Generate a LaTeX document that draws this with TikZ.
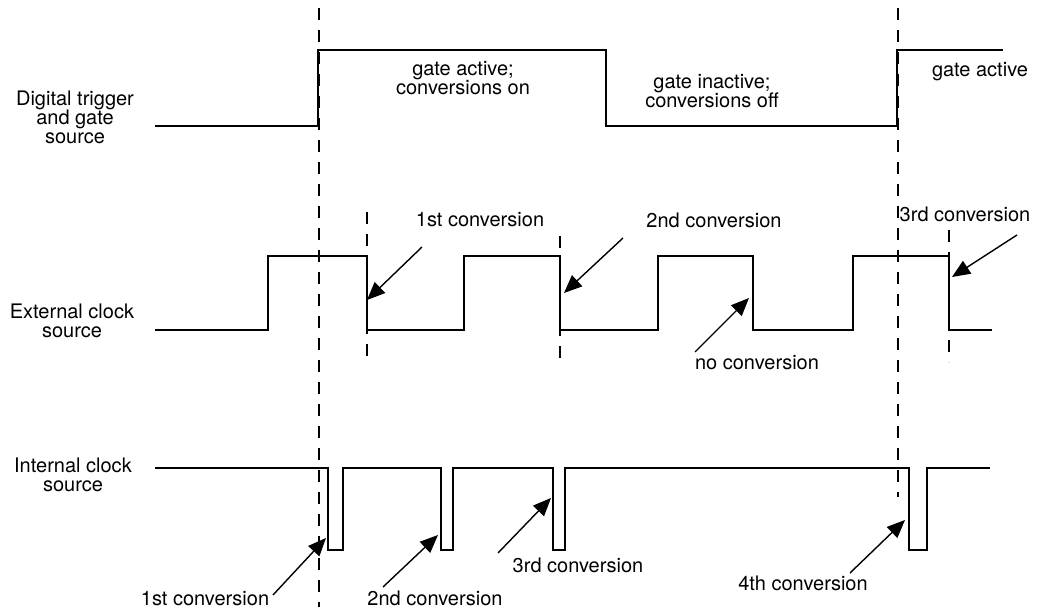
\documentclass[tikz,border=0pt]{standalone}
\usepackage{fontspec}
\setmainfont{TeX Gyre Heros}
\usepackage{tikz}
\usetikzlibrary{arrows.meta}
\tikzset{lb/.append style={font=\fontsize{20}{19}\selectfont, align=center, inner sep=0pt}}
\tikzset{sg/.append style={line width=1.6pt}}
\tikzset{gd/.append style={line width=1.3pt, dash pattern=on 12pt off 10pt}}
\tikzset{ar/.append style={line width=1.4pt, -{Triangle[length=18pt,width=15pt]}}}

\begin{document}
\begin{tikzpicture}[x=1pt,y=-1pt]
                \useasboundingbox (0,0) rectangle (1039,612);
                % signal names
                \node[lb] (dig) at (75,117) {Digital trigger\\and gate\\source};
                \node[lb] (ext) at (72,321) {External clock\\source};
                \node[lb] (int) at (73,475) {Internal clock\\source};
                % waveforms
                \draw[sg] (155,126) -| (318,50) -| (606,126) -| (897,50) -- (1003,50);
                \draw[sg] (155,330) -| (268,256) -| (367,330) -| (464,256) -| (560,330) -| (658,256) -| (753,330) -| (853,256) -| (949,330) -- (992,330);
                \draw[sg] (155,468) -| (328,550) -| (343,468) -| (441,550) -| (453,468) -| (553,550) -| (565,468) -| (909,550) -| (927,468) -- (990,468);
                \draw[gd] (319,8) -- (319,607);
                \draw[gd] (898,8) -- (898,497);
                \draw[gd] (367,212) -- (367,362);
                \draw[gd] (560,236) -- (560,362);
                \draw[gd] (949,230) -- (949,362);
                \node[lb] (on) at (463,78) {gate active;\\conversions on};
                \node[lb] (off) at (712,91) {gate inactive;\\conversions off};
                \node[lb] (on2) at (980,72) {gate active};
                \node[lb] (e1) at (480,220) {1st conversion};
                \node[lb] (e2) at (714,220) {2nd conversion};
                \node[lb] (e3) at (965,214) {3rd conversion};
                \node[lb] (en) at (757,363) {no conversion};
                \node[lb] (i1) at (205,599) {1st conversion};
                \node[lb] (i2) at (435,598) {2nd conversion};
                \node[lb] (i3) at (578,565) {3rd conversion};
                \node[lb] (i4) at (803,583) {4th conversion};
                \coordinate (e1t) at (422,247); \coordinate (e1h) at (367,300);
                \coordinate (e2t) at (623,238); \coordinate (e2h) at (564,293);
                \coordinate (e3t) at (1017,235); \coordinate (e3h) at (952,277);
                \coordinate (ent) at (695,352); \coordinate (enh) at (749,298);
                \coordinate (i1t) at (273,595); \coordinate (i1h) at (326,538);
                \coordinate (i2t) at (383,587); \coordinate (i2h) at (438,535);
                \coordinate (i3t) at (498,553); \coordinate (i3h) at (551,498);
                \coordinate (i4t) at (850,573); \coordinate (i4h) at (905,520);
                \path (e1t) edge[ar] (e1h) (e2t) edge[ar] (e2h) (e3t) edge[ar] (e3h) (ent) edge[ar] (enh);
                \path (i1t) edge[ar] (i1h) (i2t) edge[ar] (i2h) (i3t) edge[ar] (i3h) (i4t) edge[ar] (i4h);
            \end{tikzpicture}
\end{document}
